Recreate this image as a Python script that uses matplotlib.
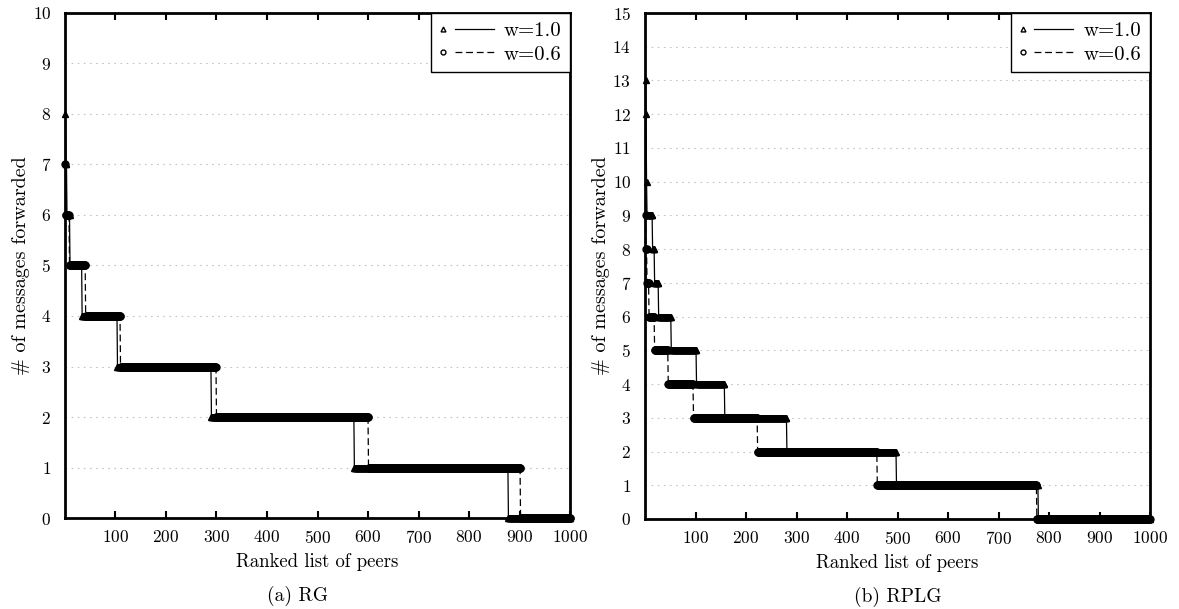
import numpy as np
import matplotlib
matplotlib.use("Agg")
import matplotlib.pyplot as plt
from matplotlib.lines import Line2D
from matplotlib.legend_handler import HandlerBase

plt.rcParams["font.family"] = ["cmr10", "DejaVu Serif"]
plt.rcParams["axes.formatter.use_mathtext"] = True
plt.rcParams["axes.unicode_minus"] = False

# number of peers that forwarded each number of messages (from highest to lowest)
rg_levels_w10 = [8, 7, 6, 5, 4, 3, 2, 1, 0]
rg_counts_w10 = [1, 2, 6, 24, 70, 186, 283, 305, 123]
rg_levels_w06 = [7, 6, 5, 4, 3, 2, 1, 0]
rg_counts_w06 = [1, 7, 32, 69, 190, 301, 301, 99]

rplg_levels_w10 = [13, 12, 10, 9, 8, 7, 6, 5, 4, 3, 2, 1, 0]
rplg_counts_w10 = [1, 1, 1, 11, 4, 8, 25, 50, 56, 123, 217, 281, 222]
rplg_levels_w06 = [9, 8, 7, 6, 5, 4, 3, 2, 1, 0]
rplg_counts_w06 = [1, 2, 4, 11, 27, 50, 127, 237, 316, 225]

xticks = list(range(100, 1001, 100))
legend_labels = ["w=1.0", "w=0.6"]

DASHED = (0, (5.5, 3))
STYLES = {"^": "-", "o": DASHED}


class MarkerThenLine(HandlerBase):
    # gnuplot-like key: small marker, then a gap, then the line sample
    def create_artists(self, legend, orig_handle, xdescent, ydescent,
                       width, height, fontsize, trans):
        y = height / 2 - ydescent
        mk = orig_handle.get_marker()
        m = Line2D([width * 0.06 - xdescent], [y], ls="none",
                   marker=mk, markersize=3.5,
                   markerfacecolor="white", markeredgecolor="black", markeredgewidth=1.0)
        l = Line2D([width * 0.28 - xdescent, width - xdescent], [y, y],
                   color="black", lw=0.9, ls=STYLES[mk])
        m.set_transform(trans)
        l.set_transform(trans)
        return [m, l]


def ranked(levels, counts):
    vals = np.repeat(levels, counts)
    ranks = np.arange(1, len(vals) + 1)
    return ranks, vals


def draw_panel(ax, series, ymax, caption, cap_x):
    handles = []
    for (levels, counts), mk in zip(series, ["^", "o"]):
        x, y = ranked(levels, counts)
        line, = ax.plot(x, y, color="black", lw=0.9, ls=STYLES[mk], marker=mk, markersize=5,
                        markerfacecolor="black", markeredgecolor="black", markeredgewidth=1.0,
                        clip_on=False, zorder=3)
        handles.append(line)

    ax.set_xlim(0, 1000)
    ax.set_ylim(0, ymax)
    ax.set_xticks(xticks)
    ax.set_yticks(range(0, ymax + 1))
    ax.tick_params(direction="in", top=True, right=False, length=5, width=1.5,
                   labelsize=12.5, pad=8)
    ax.tick_params(axis="y", length=0, pad=10)
    ax.grid(axis="y", color="#c4c4c4", lw=0.8, ls=(0, (1.5, 4)))
    ax.set_axisbelow(True)
    for s in ax.spines.values():
        s.set_linewidth(2)

    ax.set_xlabel("Ranked list of peers", fontsize=13.5, labelpad=5)
    ax.set_ylabel("# of messages forwarded", fontsize=14.5, labelpad=2)
    ax.text(cap_x, -0.135, caption, transform=ax.transAxes, ha="center", va="top", fontsize=14)

    leg = ax.legend(handles, legend_labels, loc="upper right", fontsize=15,
                    handler_map={Line2D: MarkerThenLine()},
                    handlelength=2.6, handletextpad=0.5, borderaxespad=0,
                    fancybox=False, edgecolor="black", framealpha=1,
                    borderpad=0.4, labelspacing=0.25)
    leg.get_frame().set_linewidth(1.0)


fig = plt.figure(figsize=(11.79, 6.09), dpi=100)
ax1 = fig.add_axes([0.0551, 0.1494, 0.4284, 0.8293])
ax2 = fig.add_axes([0.5471, 0.1478, 0.4283, 0.8309])

draw_panel(ax1, [(rg_levels_w10, rg_counts_w10), (rg_levels_w06, rg_counts_w06)], 10, "(a) RG", 0.46)
draw_panel(ax2, [(rplg_levels_w10, rplg_counts_w10), (rplg_levels_w06, rplg_counts_w06)], 15, "(b) RPLG", 0.5)

fig.savefig("out.png", dpi=100)
